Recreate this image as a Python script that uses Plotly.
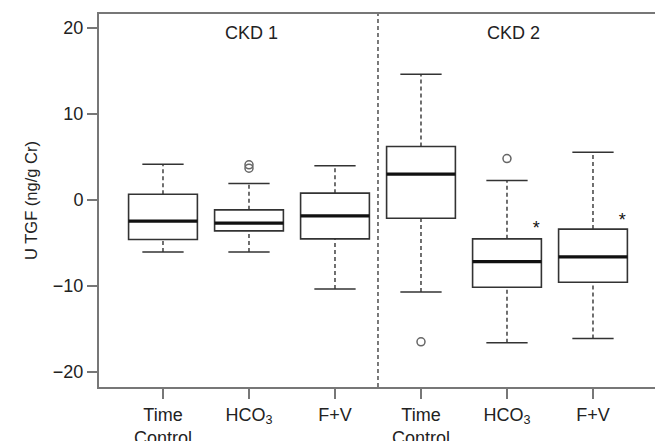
import plotly.graph_objects as go

# ---- data ----
positions = [1, 2, 3, 4, 5, 6]
tick_labels = ["Time<br>Control", "HCO<sub>3</sub>", "F+V",
               "Time<br>Control", "HCO<sub>3</sub>", "F+V"]
q1 = [-4.6, -3.6, -4.53, -2.13, -10.16, -9.57]
median = [-2.48, -2.7, -1.86, 2.98, -7.17, -6.63]
q3 = [0.66, -1.16, 0.78, 6.2, -4.53, -3.4]
whisker_low = [-6.05, -6.05, -10.35, -10.7, -16.6, -16.1]
whisker_high = [4.15, 1.9, 3.95, 14.6, 2.25, 5.54]
outlier_x = [2, 2, 4, 5]
outlier_y = [4.07, 3.68, -16.5, 4.8]
star_x = [5.34, 6.34]
star_y = [-3.4, -2.5]
group_labels = ["CKD 1", "CKD 2"]
group_label_x = [2.03, 5.07]
divider_x = 3.5

BOX_HALF = 0.4
CAP_HALF = 0.24
LINE = "#333333"
FRAME = "#777777"
FONT = "Liberation Sans, Arial, sans-serif"
FS = 18

fig = go.Figure()

fig.add_trace(go.Box(
    x=positions, q1=q1, median=median, q3=q3,
    lowerfence=q1, upperfence=q3,
    width=2 * BOX_HALF, boxpoints=False,
    fillcolor="rgba(255,255,255,0)",
    line=dict(color=LINE, width=1.6),
    whiskerwidth=0, showlegend=False, hoverinfo="skip",
))

# dashed whiskers
wx, wy = [], []
for p, lo, a, b, hi in zip(positions, whisker_low, q1, q3, whisker_high):
    wx += [p, p, None, p, p, None]
    wy += [lo, a, None, b, hi, None]
fig.add_trace(go.Scatter(x=wx, y=wy, mode="lines",
                         line=dict(color=LINE, width=1.4, dash="4px,3px"),
                         showlegend=False, hoverinfo="skip"))

# whisker caps
cx, cy = [], []
for p, lo, hi in zip(positions, whisker_low, whisker_high):
    cx += [p - CAP_HALF, p + CAP_HALF, None, p - CAP_HALF, p + CAP_HALF, None]
    cy += [lo, lo, None, hi, hi, None]
fig.add_trace(go.Scatter(x=cx, y=cy, mode="lines",
                         line=dict(color=LINE, width=1.5),
                         showlegend=False, hoverinfo="skip"))

# thick medians
mx, my = [], []
for p, m in zip(positions, median):
    mx += [p - BOX_HALF, p + BOX_HALF, None]
    my += [m, m, None]
fig.add_trace(go.Scatter(x=mx, y=my, mode="lines",
                         line=dict(color="#111111", width=3.2),
                         showlegend=False, hoverinfo="skip"))

# outliers
fig.add_trace(go.Scatter(x=outlier_x, y=outlier_y, mode="markers",
                         marker=dict(symbol="circle-open", size=8,
                                     color="#666666", line=dict(width=1.5)),
                         showlegend=False, hoverinfo="skip"))

# significance stars
fig.add_trace(go.Scatter(x=star_x, y=star_y, mode="text", text=["*"] * len(star_x),
                         textfont=dict(family=FONT, size=FS, color="#111111"),
                         showlegend=False, hoverinfo="skip"))

for lbl, gx in zip(group_labels, group_label_x):
    fig.add_annotation(x=gx, y=19.4, text=lbl, showarrow=False,
                       font=dict(family=FONT, size=FS, color="#222222"),
                       xanchor="center", yanchor="middle")

fig.add_shape(type="line", x0=divider_x, x1=divider_x, y0=0, y1=1,
              yref="paper", xref="x",
              line=dict(color="#333333", width=1.3, dash="4px,3px"))

fig.update_layout(
    width=655, height=441,
    margin=dict(l=99, r=0, t=14, b=54),
    paper_bgcolor="white", plot_bgcolor="white",
    font=dict(family=FONT, size=FS, color="#222222"),
    showlegend=False,
)
fig.update_xaxes(range=[0.256, 6.721], tickmode="array",
                 tickvals=positions, ticktext=tick_labels,
                 showgrid=False, zeroline=False, automargin=False,
                 showline=True, mirror=True, linecolor=FRAME, linewidth=2,
                 ticks="outside", ticklen=10, tickwidth=2, tickcolor=FRAME,
                 tickfont=dict(size=FS))
fig.update_yaxes(range=[-21.75, 21.6], tickmode="array",
                 tickvals=[-20, -10, 0, 10, 20],
                 ticktext=["\u221220", "\u221210", "0", "10", "20"],
                 showgrid=False, zeroline=False, automargin=False,
                 showline=True, mirror=False, linecolor=FRAME, linewidth=2,
                 ticks="outside", ticklen=10, tickwidth=2, tickcolor=FRAME,
                 tickfont=dict(size=FS),
                 title=dict(text="U TGF (ng/g Cr)", font=dict(size=16.5), standoff=11))

fig.write_html(
    "out.html",
    config={"displayModeBar": False},
    post_script="document.body.style.margin='0';document.body.style.overflow='hidden';",
)
